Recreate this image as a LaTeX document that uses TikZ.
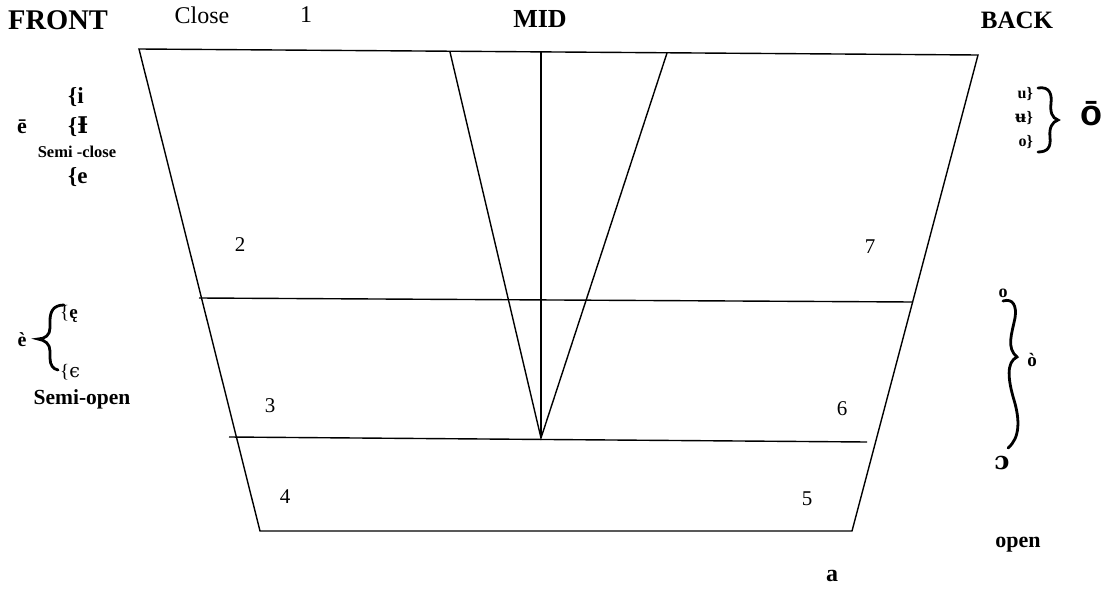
\documentclass[tikz,border=0pt]{standalone}
\usepackage{fontspec}
\setmainfont{Liberation Serif}
\newfontfamily\ipafont{DejaVu Serif}
\newfontfamily\sansb{Liberation Sans}
\newcommand{\fs}[1]{\fontsize{#1}{#1}\selectfont}
\begin{document}
\begin{tikzpicture}[x=1pt,y=-1pt,
  frame/.style={line width=1.4pt, line join=miter},
  brace/.style={line width=2.8pt, line cap=round},
  lbl/.style={inner sep=0pt, font=\fs{24}\bfseries},
  num/.style={inner sep=0pt, font=\fs{21}},
  small/.style={inner sep=0pt, font=\fs{20}\bfseries},
  tiny/.style={inner sep=0pt, font=\fs{16}\bfseries}]
\useasboundingbox (0,0) rectangle (1106,597);
% trapezoid corners
\coordinate (TL) at (139,49);
\coordinate (TR) at (978,55);
\coordinate (BL) at (260,531);
\coordinate (BR) at (852,531);
\coordinate (H1a) at (199,298);
\coordinate (H1b) at (913,302);
\coordinate (H2a) at (229,437);
\coordinate (H2b) at (867,442);
\coordinate (Mtop) at (541,51);
\coordinate (Mbot) at (541,438);
\coordinate (VL) at (450,52);
\coordinate (VR) at (667,53);
\draw[frame] (TL) -- (TR) -- (BR) -- (BL) -- cycle;
\draw[frame] (H1a) -- (H1b);
\draw[frame] (H2a) -- (H2b);
\draw[frame] (Mtop) -- (Mbot);
\draw[frame] (VL) -- (Mbot) -- (VR);
% headings
\node[lbl, font=\fs{28.5}\bfseries] (front) at (58,20) {FRONT};
\node[inner sep=0pt, font=\fs{24}] (close) at (202,15) {Close};
\node[inner sep=0pt, font=\fs{24}] (one) at (306,15) {1};
\node[lbl, font=\fs{26}\bfseries] (mid) at (540,19) {MID};
\node[lbl, font=\fs{25}\bfseries] (back) at (1017,20) {BACK};
% numbers
\node[num] (n2) at (240,245) {2};
\node[num] (n7) at (870,247) {7};
\node[num] (n3) at (270,406) {3};
\node[num] (n6) at (842,409) {6};
\node[num] (n4) at (285,497) {4};
\node[num] (n5) at (807,499) {5};
% upper left
\node[small, font=\fs{23}\bfseries, anchor=west] (li) at (68,97) {\{i};
\node[small, font=\fs{22}\bfseries] (ebar) at (22,127) {ē};
\node[small, font=\fs{23}\bfseries, anchor=west] (lI) at (68,127) {\{\ipafont\bfseries Ɨ};
\node[inner sep=0pt, font=\fs{16.5}\bfseries] (semiclose) at (77,152) {Semi -close};
\node[small, font=\fs{23}\bfseries, anchor=west] (le) at (68,177) {\{e};
% lower left
\node[small, font=\fs{20}\bfseries] (egrave) at (22,340) {è};
\node[inner sep=0pt, font=\fs{19}, anchor=west] (eog) at (60,314) {\{\bfseries ę};
\node[inner sep=0pt, font=\fs{19}, anchor=west] (eps) at (60,372) {\{{\ipafont ϵ}};
\node[small, font=\fs{21.5}\bfseries] (semiopen) at (82,399) {Semi-open};
\draw[brace] (64,305) .. controls (53,305) and (50,312) .. (50,321) -- (50,328)
  .. controls (50,335) and (45,339) .. (38,339)
  .. controls (45,340) and (50,344) .. (50,351) -- (50,358)
  .. controls (50,365) and (53,369) .. (58,370);
% upper right
\node[tiny, anchor=east] (ru) at (1033,94) {u\}};
\node[tiny, anchor=east] (rub) at (1033,118) {{\ipafont\bfseries ʉ}\}};
\node[tiny, anchor=east] (ro) at (1033,142) {o\}};
\draw[brace] (1038,88) .. controls (1050,86) and (1052,95) .. (1051,103)
  .. controls (1050,112) and (1052,118) .. (1058,120)
  .. controls (1052,122) and (1049,128) .. (1050,137)
  .. controls (1051,147) and (1048,152) .. (1038,152);
\node[inner sep=0pt, font=\fs{36}\sansb\bfseries] (obar) at (1091,114) {ō};
% lower right
\node[tiny, font=\fs{18}\bfseries] (otop) at (1003,293) {o};
\draw[brace] (1003,301) .. controls (1013,298) and (1017,306) .. (1015,318)
  .. controls (1012,333) and (1006,348) .. (1017,357)
  .. controls (1006,362) and (1008,380) .. (1014,400)
  .. controls (1020,420) and (1020,438) .. (1008,448);
\node[small, font=\fs{19}\bfseries] (ograve) at (1032,360) {ò};
\node[small, font=\fs{25}\bfseries] (oopen) at (1002,463) {\ipafont\bfseries ɔ};
\node[small, font=\fs{22}\bfseries] (open) at (1018,545) {open};
\node[small, font=\fs{24}\bfseries] (a) at (832,576) {a};
\end{tikzpicture}
\end{document}
